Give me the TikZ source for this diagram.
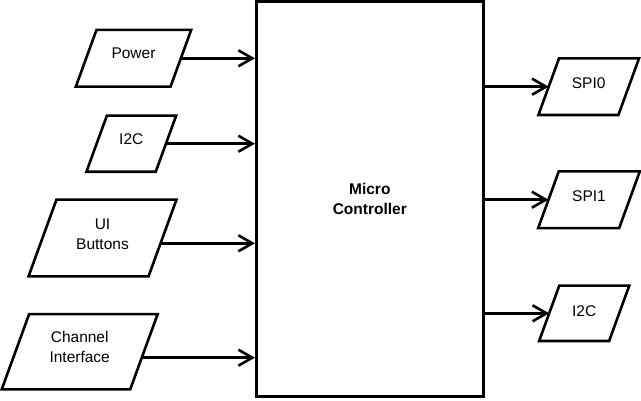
\documentclass[tikz,border=0pt]{standalone}
\usepackage{fontspec}
\setmainfont{Liberation Sans}
\usetikzlibrary{arrows.meta}
% #1 name, #2 cx, #3 cy, #4 edge width, #5 height, #6 text, #7 arrow offset, #8 text offset
\newcommand{\pgram}[8]{%
  \draw[shapeline] (#2-#4/2-#5*0.182,#3-#5/2) -- (#2+#4/2-#5*0.182,#3-#5/2)
    -- (#2+#4/2+#5*0.182,#3+#5/2) -- (#2-#4/2+#5*0.182,#3+#5/2) -- cycle;
  \node[txt] (#1) at (#2,#3+#8) {#6};
  \coordinate (#1-e) at (#2+#4/2+#7*0.364,#3+#7);
  \coordinate (#1-w) at (#2-#4/2+#7*0.364,#3+#7);
}
\begin{document}
\begin{tikzpicture}[x=1pt,y=1pt,
  txt/.style={align=center, inner sep=0pt, font=\fontsize{15.5}{20}\selectfont},
  shapeline/.style={draw, line width=2.6pt, line join=miter},
  mcbox/.style={draw, line width=2.6pt, rectangle, inner sep=0pt, align=center,
    font=\fontsize{15.5}{20}\selectfont\bfseries},
  conn/.style={line width=2.6pt, -{Straight Barb[length=14pt,width=16pt]}}
]
\useasboundingbox (0,0) rectangle (641,400);
\node[mcbox, minimum width=227pt, minimum height=395pt] (mc) at (369.8,200.8) {Micro\\Controller};
\pgram{power}{133.5}{341.7}{94.7}{56.7}{Power}{0}{5}
\pgram{i2cl}{131.3}{256.3}{69.3}{56}{I2C}{0}{5}
\pgram{ui}{102.5}{162}{120}{76.7}{UI\\Buttons}{-5.3}{3.3}
\pgram{chan}{79.7}{48.3}{128.5}{75.3}{Channel\\Interface}{-6.0}{4.5}
\pgram{spi0}{588.7}{313.3}{80}{56.7}{SPI0}{0}{3.9}
\pgram{spi1}{589}{200.3}{81}{56.7}{SPI1}{0}{4}
\pgram{i2cr}{584.2}{86.7}{70}{55.3}{I2C}{0}{2.5}
\draw[conn] (power-e) -- (power-e -| mc.west);
\draw[conn] (i2cl-e) -- (i2cl-e -| mc.west);
\draw[conn] (ui-e) -- (ui-e -| mc.west);
\draw[conn] (chan-e) -- (chan-e -| mc.west);
\draw[conn] (mc.east |- spi0-w) -- (spi0-w);
\draw[conn] (mc.east |- spi1-w) -- (spi1-w);
\draw[conn] (mc.east |- i2cr-w) -- (i2cr-w);
\end{tikzpicture}
\end{document}
